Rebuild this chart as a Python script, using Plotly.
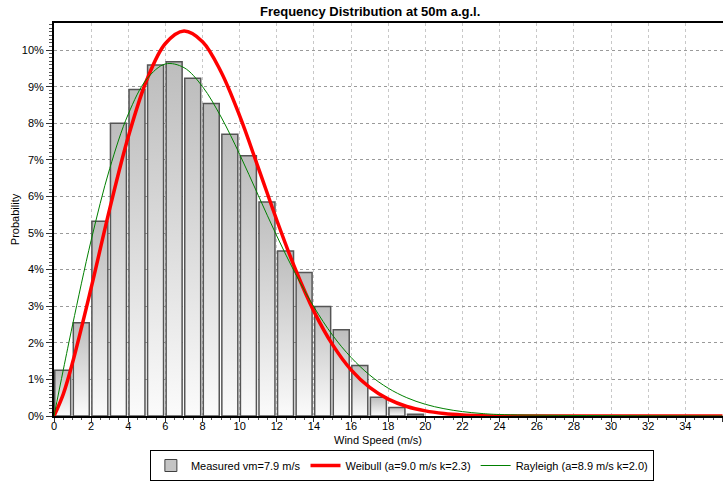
import plotly.graph_objects as go

# ---------------- data ----------------
bin_starts = list(range(0, 20))  # m/s bins
measured = [0.0125, 0.0255, 0.0532, 0.0800, 0.0892, 0.0959, 0.0968, 0.0923, 0.0854, 0.0770,
            0.0711, 0.0585, 0.0451, 0.0392, 0.0299, 0.0236, 0.0138, 0.0051, 0.0023, 0.0005]

curve_x = [0, 0.5, 1, 2, 3, 4, 5, 6, 7, 8, 9, 10, 11, 12, 13, 14, 15, 16, 17, 18, 19, 20,
           21, 22, 23, 24, 36]
weibull = [0, 0.0060, 0.0146, 0.0350, 0.0566, 0.0763, 0.0919, 0.1018, 0.1052, 0.1023, 0.0940,
           0.0820, 0.0679, 0.0535, 0.0401, 0.0286, 0.0195, 0.0126, 0.0078, 0.0046, 0.0026,
           0.0014, 0.0007, 0.0003, 0.0001, 0.0, 0.0]
rayleigh = [0, 0.0126, 0.0249, 0.0480, 0.0676, 0.0825, 0.0921, 0.0962, 0.0952, 0.0900, 0.0817,
            0.0715, 0.0603, 0.0492, 0.0389, 0.0298, 0.0221, 0.0160, 0.0112, 0.0076, 0.0050,
            0.0032, 0.0020, 0.0012, 0.0007, 0.0004, 0.0]

measured_name = "Measured vm=7.9 m/s"
weibull_name = "Weibull (a=9.0 m/s k=2.3)"
rayleigh_name = "Rayleigh (a=8.9 m/s k=2.0)"
title_text = "Frequency Distribution at 50m a.g.l."
x_title = "Wind Speed (m/s)"
y_title = "Probability"

FONT = "Liberation Sans, Arial, sans-serif"
BAR_L, BAR_R = 0.04, 0.90  # bar extent inside each 1 m/s bin

fig = go.Figure()

# gradient-filled bars (one trace per bar so each has its own gradient)
for b, v in zip(bin_starts, measured):
    xl, xr = b + BAR_L, b + BAR_R
    fig.add_trace(go.Scatter(
        x=[xl, xl, xr, xr, xl], y=[0, v, v, 0, 0],
        mode="lines", fill="toself",
        fillgradient=dict(type="vertical",
                          colorscale=[[0, "#fbfbfb"], [1, "#bdbdbd"]]),
        line=dict(color="#555555", width=1.5),
        showlegend=False, hoverinfo="skip"))

# legend entry for the measured bars
fig.add_trace(go.Bar(x=[None], y=[None], name=measured_name,
                     marker=dict(color="#c4c4c4", line=dict(color="#404040", width=1))))

fig.add_trace(go.Scatter(x=curve_x, y=weibull, mode="lines", name=weibull_name,
                         line=dict(color="#ff0000", width=3.5, shape="spline", smoothing=1)))
fig.add_trace(go.Scatter(x=curve_x, y=rayleigh, mode="lines", name=rayleigh_name,
                         line=dict(color="#008000", width=1, shape="spline", smoothing=1)))

fig.add_annotation(text=x_title, xref="paper", yref="paper",
                   x=(378 - 54) / 669, y=-(440 - 416) / 393,
                   xanchor="center", yanchor="middle", showarrow=False,
                   font=dict(family=FONT, size=11, color="black"))

fig.update_layout(
    width=723, height=483,
    margin=dict(l=54, r=0, t=23, b=67, autoexpand=False),
    paper_bgcolor="white", plot_bgcolor="white",
    font=dict(family=FONT, size=11, color="black"),
    title=dict(text="<b>" + title_text + "</b>", x=0.512, xref="container", xanchor="center",
               y=1 - 11 / 483, yref="container", yanchor="middle",
               font=dict(family=FONT, size=13, color="black")),
    showlegend=True,
    legend=dict(orientation="h", x=0.52, xanchor="center", y=-(481 - 416) / 393, yanchor="bottom",
                bordercolor="black", borderwidth=1, bgcolor="white",
                font=dict(family=FONT, size=11), itemwidth=30,
                tracegroupgap=0),
    xaxis=dict(range=[0, 36.03], tick0=0, dtick=2, ticks="outside", ticklen=4, tickcolor="#333",
               minor=dict(dtick=0.5, ticks="outside", ticklen=2, tickcolor="#555", showgrid=False),
               showgrid=True, gridcolor="#c8c8c8", griddash="dot", gridwidth=1,
               showline=True, linecolor="black", linewidth=2, mirror=True,
               zeroline=False, automargin=False, ticklabelstandoff=-5,
               tickfont=dict(size=11)),
    yaxis=dict(range=[0, 0.1074], tick0=0, dtick=0.01, tickformat=".0%",
               ticks="outside", ticklen=6, tickcolor="#333",
               minor=dict(dtick=0.001, ticks="outside", ticklen=3, tickcolor="#555", showgrid=False),
               showgrid=True, gridcolor="#9a9a9a", griddash="dot", gridwidth=1,
               showline=True, linecolor="black", linewidth=2,
               zeroline=False, automargin=False,
               title=dict(text=y_title, standoff=0, font=dict(size=11)),
               tickfont=dict(size=11)),
)

fig.write_html("out.html")
